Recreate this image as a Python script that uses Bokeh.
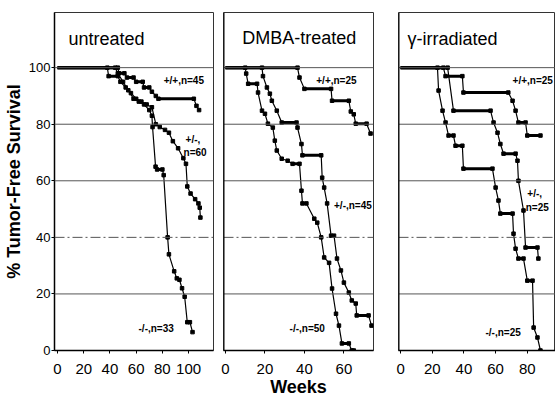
from bokeh.plotting import figure
from bokeh.layouts import row
from bokeh.models import Range1d, FixedTicker, Span, ColumnDataSource
from bokeh.embed import file_html
from bokeh.resources import INLINE
from bokeh.core.properties import value

FONT = "Liberation Sans"

# ---------------- data ----------------
y_ticks = [0, 20, 40, 60, 80, 100]
grid_solid = [20, 60, 80, 100]
grid_dashed = [40]

# untreated
unt_wt_x = [0, 46, 47, 51, 53, 58, 60, 65, 66, 70, 72, 75, 77, 104, 106, 108]
unt_wt_y = [100, 100, 98, 98, 96.5, 96.5, 95, 95, 93, 93, 91.5, 90, 89, 89, 86.5, 85]
unt_het_x = [0, 38, 39, 46, 48, 52, 56, 60, 64, 68, 72, 75, 78, 82, 85, 88, 92, 96, 98, 99, 101.5, 105, 107.5, 108.5, 109]
unt_het_y = [100, 100, 97, 97, 95, 93, 91, 89, 88, 87, 86, 80, 79, 78, 77, 74, 71.5, 68, 66, 58, 55.5, 53.5, 52, 50.5, 47]
unt_ko_x = [0, 44, 46, 50, 54, 58, 62, 66, 70, 72, 72.5, 74.8, 76, 80, 81, 84, 85, 89, 91, 93, 95, 97, 99, 101, 103]
unt_ko_y = [100, 100, 98, 95, 92, 89, 88, 87, 85, 83, 79, 65, 64, 64, 62, 40, 34, 28, 25.5, 25, 22, 19, 10, 10, 6.5]

# DMBA-treated
dmba_wt_x = [0, 36.5, 37.5, 40, 53.5, 54, 62.5, 63.5, 65, 66, 71.5, 73.5]
dmba_wt_y = [100, 100, 96.5, 92.5, 92.5, 88.3, 88.3, 84.5, 83.5, 80.2, 80.2, 76.7]
dmba_het_x = [0, 18.5, 19, 21, 22.5, 23.5, 26, 28.5, 36, 36.5, 38.5, 39, 48.5, 49, 50, 51.5, 53.5, 55, 56.5, 58.5, 60, 62.5, 64, 66, 66.5, 72.5, 74]
dmba_het_y = [100, 100, 97, 93, 90.8, 88.3, 84.8, 80.6, 80.6, 78.8, 73, 69, 69, 61.1, 57.6, 52, 40.6, 40.6, 32.5, 28.3, 24, 20.5, 17.7, 16.6, 12.4, 12.4, 8.8]
dmba_ko_x = [0, 10, 10.5, 11.5, 16, 16.5, 18.5, 20, 21.5, 24, 25, 26, 28.5, 31.5, 34, 37.5, 38.5, 39, 41, 45, 46.5, 48.5, 50, 52.5, 54, 56, 57.5, 59, 62.5, 64, 65]
dmba_ko_y = [100, 100, 97.9, 94.3, 94.3, 91.2, 84.8, 83.7, 80.2, 78.8, 74.2, 70.7, 67.8, 67.1, 66, 66, 56.5, 52, 52, 46.6, 45.2, 40, 32.9, 31, 21.9, 13, 8.8, 2.5, 2.5, 0, 0]

# gamma-irradiated
gam_wt_x = [0, 27, 28.4, 39, 39.7, 68, 70.7, 72.6, 74.4, 78.9, 80, 88.3]
gam_wt_y = [100, 100, 97, 97, 91.2, 91.2, 88.3, 84.8, 80.6, 80.6, 76, 76]
gam_het_x = [0, 29.7, 33.4, 56.8, 58.7, 61.2, 63, 65, 72.6, 73.8, 74.4, 77.6, 78.9, 86.4, 87]
gam_het_y = [100, 100, 84.8, 84.8, 80.6, 77, 73, 69.6, 69.6, 67.1, 60, 49.5, 36.4, 36.4, 32.5]
gam_ko_x = [0, 23.3, 24, 26.5, 28.4, 30.3, 33.4, 34.7, 39, 39.7, 58, 60, 61.8, 63, 70.7, 71.3, 72.6, 74.4, 77.6, 80, 83.3, 84, 86.4, 88.3]
gam_ko_y = [100, 100, 91.9, 84.8, 80.6, 76, 76, 72.4, 72.4, 64.3, 64.3, 57.6, 53, 48.4, 48.4, 41.3, 36, 32.5, 32.5, 24.7, 24.7, 8.1, 4.6, 0]

titles = ["untreated", "DMBA-treated", "\u03b3-irradiated"]
x_ticks = [[0, 20, 40, 60, 80, 100], [0, 20, 40, 60], [0, 20, 40, 60, 80]]
x_ranges = [(-2.3, 119), (-1, 75), (-1.3, 97.8)]

ann_text = [["+/+,n=45", "+/-,", "n=60", "-/-,n=33"],
            ["+/+,n=25", "+/-,n=45", "-/-,n=50"],
            ["+/+,n=25", "+/-,", "n=25", "-/-,n=25"]]
ann_x = [[81, 97.7, 96.2, 61.8], [46, 55, 32.5], [70.7, 80, 79, 53.6]]
ann_y = [[95.4, 74.6, 70, 7.8], [95.4, 51.2, 7.8], [95.4, 55.5, 50.5, 6.4]]
title_x = [8.4, 8.5, 4.4]
title_y = [110, 110.5, 110]

curves = [
    [(unt_wt_x, unt_wt_y), (unt_het_x, unt_het_y), (unt_ko_x, unt_ko_y)],
    [(dmba_wt_x, dmba_wt_y), (dmba_het_x, dmba_het_y), (dmba_ko_x, dmba_ko_y)],
    [(gam_wt_x, gam_wt_y), (gam_het_x, gam_het_y), (gam_ko_x, gam_ko_y)],
]

# ---------------- layout ----------------
frame_w = [159, 150, 157]
border_l = [46, 5, 13]
border_r = [5, 12, 0]


def make_panel(i):
    p = figure(frame_width=frame_w[i], frame_height=338,
               min_border_left=border_l[i], min_border_right=border_r[i],
               min_border_top=12, min_border_bottom=50,
               x_range=Range1d(*x_ranges[i]), y_range=Range1d(0, 119.5),
               output_backend="svg", toolbar_location=None,
               background_fill_color="white", border_fill_color="white")
    p.xgrid.visible = False
    p.ygrid.visible = False
    p.outline_line_color = "#333333"
    p.outline_line_width = 1

    for g in grid_solid:
        p.add_layout(Span(location=g, dimension="width", line_color="#555555", line_width=1))
    for g in grid_dashed:
        p.add_layout(Span(location=g, dimension="width", line_color="#555555", line_width=1,
                          line_dash="10 3 2 3"))

    for ax in (p.xaxis[0], p.yaxis[0]):
        ax.axis_line_color = "black"
        ax.axis_line_width = 1.5
        ax.major_tick_line_color = "black"
        ax.major_tick_in = 0
        ax.major_tick_out = 3
        ax.minor_tick_line_color = None
        ax.major_label_text_font = FONT
        ax.major_label_text_color = "black"
        ax.axis_label_text_color = "black"

    p.xaxis.ticker = FixedTicker(ticks=x_ticks[i])
    p.xaxis.major_label_text_font_size = "15px"
    p.xaxis.major_label_standoff = 10
    p.yaxis.ticker = FixedTicker(ticks=y_ticks)

    if i == 0:
        p.yaxis.major_label_text_font_size = "13px"
        p.yaxis.major_label_standoff = 1
        p.yaxis.axis_label = "% Tumor-Free Survival"
        p.yaxis.axis_label_text_font = FONT
        p.yaxis.axis_label_text_font_size = "18px"
        p.yaxis.axis_label_text_font_style = "bold"
        p.yaxis.axis_label_standoff = 2
    else:
        p.yaxis.visible = False
        p.add_layout(Span(location=x_ranges[i][0], dimension="height",
                          line_color="black", line_width=2))
    if i == 1:
        p.xaxis.axis_label = "Weeks"
        p.xaxis.axis_label_text_font = FONT
        p.xaxis.axis_label_text_font_size = "18px"
        p.xaxis.axis_label_text_font_style = "bold"
        p.xaxis.axis_label_standoff = 0

    for xs, ys in curves[i]:
        p.line(xs, ys, line_color="black", line_width=1.2)
        sx0, sy0, sx1, sy1 = [], [], [], []
        for k in range(len(xs) - 1):
            if ys[k] == ys[k + 1]:
                sx0.append(xs[k]); sy0.append(ys[k]); sx1.append(xs[k + 1]); sy1.append(ys[k + 1])
        p.segment(sx0, sy0, sx1, sy1, line_color="black", line_width=3)
        p.scatter(xs[1:], ys[1:], marker="square", size=3.5, color="black")

    p.text(x=[title_x[i]], y=[title_y[i]], text=[titles[i]],
           text_font=value(FONT), text_font_size="18px", text_color="black",
           text_baseline="middle", text_align="left")
    src = ColumnDataSource(dict(x=ann_x[i], y=ann_y[i], t=ann_text[i]))
    p.text(x="x", y="y", text="t", source=src,
           text_font=value(FONT), text_font_size="10px", text_font_style="bold",
           text_color="black", text_baseline="middle", text_align="left")
    return p


panels = [make_panel(i) for i in range(3)]
layout = row(*panels, spacing=0)

open("out.html", "w").write(file_html(layout, INLINE))
